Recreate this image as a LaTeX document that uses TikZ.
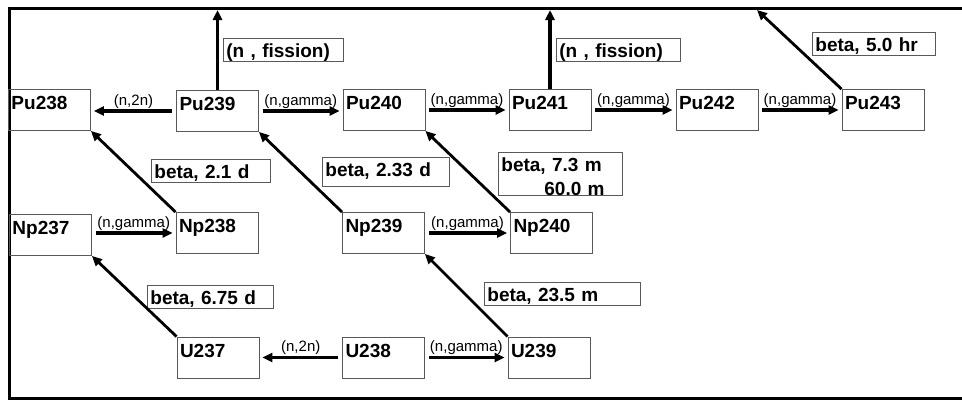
\documentclass[tikz,border=0pt]{standalone}
\usepackage{fontspec}
\setmainfont{Liberation Sans}
\usetikzlibrary{arrows.meta}

\begin{document}
\begin{tikzpicture}[x=1pt,y=-1pt,>={Triangle[length=10pt,width=9pt]},
    iso/.style={draw=black!65, line width=0.8pt, text width=76pt, inner xsep=3pt, inner ysep=2pt, align=left, text height=18pt, text depth=19pt, font=\fontsize{19}{22}\selectfont\bfseries},
    lbl/.style={draw=black!65, line width=0.8pt, anchor=north west, inner xsep=3pt, inner ysep=2pt, align=left, text height=17pt, text depth=2pt, font=\fontsize{19}{24}\selectfont\bfseries},
    rxn/.style={midway, above, inner sep=1pt, font=\fontsize{15}{17}\selectfont},
    conn/.style={->, line width=3.6pt, shorten <=4pt, shorten >=3pt},
    fis/.style={->, line width=3.6pt},
    decay/.style={->, line width=2.8pt}]
    \useasboundingbox (0,0) rectangle (962,400);
    \draw[line width=3pt] (962,8) -- (9.5,8) -- (9.5,398) -- (962,398);
    \coordinate (out) at (0,10);
    \coordinate (out3) at (757,10);

    \node[iso] (pu238) at (49.5,110) {Pu238};
    \node[iso] (pu239) at (217.5,111) {Pu239};
    \node[iso] (pu240) at (384,110) {Pu240};
    \node[iso] (pu241) at (550,110) {Pu241};
    \node[iso] (pu242) at (717,110) {Pu242};
    \node[iso] (pu243) at (883,110) {Pu243};

    \node[iso] (np237) at (50.5,235) {Np237};
    \node[iso] (np238) at (217,233) {Np238};
    \node[iso] (np239) at (383.5,233) {Np239};
    \node[iso] (np240) at (551.5,233) {Np240};

    \node[iso] (u237) at (218,357.5) {U237};
    \node[iso] (u238) at (383.5,357.5) {U238};
    \node[iso] (u239) at (549,357.5) {U239};

    \node[lbl, text width=114pt] (fis1) at (223,38) {(n , fission)};
    \node[lbl, text width=118pt] (fis2) at (556,38) {(n , fission)};
    \node[lbl, text width=117pt] (b50) at (812,32) {beta, 5.0 hr};
    \node[lbl, text width=113pt] (b21) at (151,159) {beta, 2.1 d};
    \node[lbl, text width=121pt, text depth=8pt] (b233) at (322,157) {beta, 2.33 d};
    \node[lbl, text width=118pt, text depth=22pt] (b73) at (498,152) {beta, 7.3 m\\\hspace*{43pt}60.0 m};
    \node[lbl, text width=120pt] (b675) at (147,285) {beta, 6.75 d};
    \node[lbl, text width=150pt] (b235) at (484,282) {beta, 23.5 m};

    \draw[conn] (pu239.west) -- (pu238.east |- pu239.west) node[rxn] {(n,2n)};
    \draw[conn] (pu239.east) -- (pu240.west |- pu239.east) node[rxn] {(n,gamma)};
    \draw[conn] (pu240) -- (pu241) node[rxn] {(n,gamma)};
    \draw[conn] (pu241) -- (pu242) node[rxn] {(n,gamma)};
    \draw[conn] (pu242) -- (pu243) node[rxn] {(n,gamma)};
    \draw[conn] (np237.east |- np238.west) -- (np238.west) node[rxn] {(n,gamma)};
    \draw[conn] (np239) -- (np240) node[rxn] {(n,gamma)};
    \draw[conn] (u238) -- (u237) node[rxn] {(n,2n)};
    \draw[conn] (u238) -- (u239) node[rxn] {(n,gamma)};

    \draw[fis] (pu239.north) -- (pu239.north |- out);
    \draw[fis] (pu241.north) -- (pu241.north |- out);
    \draw[decay] (pu243.north west) -- (out3);
    \draw[decay] (np238.north west) -- (pu238.south east);
    \draw[decay] (np239.north west) -- (pu239.south east);
    \draw[decay] (np240.north west) -- (pu240.south east);
    \draw[decay] (u237.north west) -- (np237.south east);
    \draw[decay] (u239.north west) -- (np239.south east);
\end{tikzpicture}
\end{document}
